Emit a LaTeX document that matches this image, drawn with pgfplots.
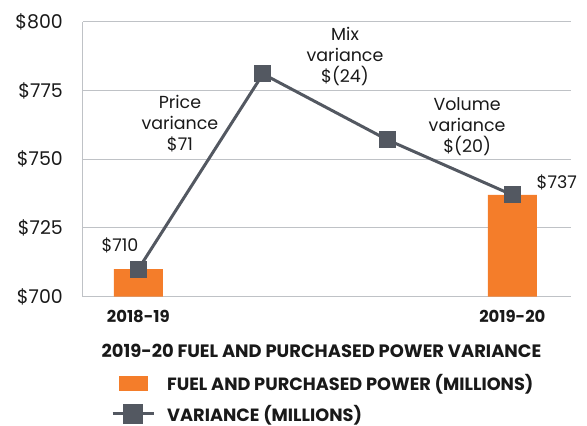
\documentclass[border=0pt]{standalone}
\usepackage{fontspec}
\setmainfont{Poppins}
\usepackage{pgfplots}
\pgfplotsset{compat=1.18}
\definecolor{barorange}{RGB}{244,125,42}
\definecolor{linegray}{RGB}{83,88,97}
\definecolor{gridgray}{RGB}{191,194,198}
\definecolor{txt}{RGB}{25,25,25}
\begin{document}
\begin{tikzpicture}
\begin{axis}[
  at={(0,0)}, anchor=south west,
  scale only axis, width=487.7bp, height=275bp,
  xmin=-0.4436, xmax=3.468, ymin=700, ymax=800,
  clip mode=individual,
  ytick={700,725,750,775,800},
  yticklabels={\$700,\$725,\$750,\$775,\$800},
  xtick={0,3}, xticklabels={2018-19,2019-20},
  x tick label style={font=\fontsize{16.5}{18}\selectfont\bfseries, text=txt, inner sep=0pt, anchor=north, yshift=-13bp},
  y tick label style={font=\fontsize{19}{22}\selectfont, text=txt, inner sep=0pt, anchor=east, xshift=-20bp},
  major tick length=0pt,
  ymajorgrids, grid style={gridgray, line width=1bp},
  axis x line*=bottom, axis y line*=left,
  axis line style={gridgray, line width=1bp, -},
  legend style={at={(axis description cs:0.0574,-0.281)}, anchor=north west, draw=none, fill=none,
    font=\fontsize{17.8}{20}\selectfont\bfseries, text=txt, inner sep=0pt, row sep=12bp, column sep=12bp,
    nodes={inner sep=0pt}},
  legend cell align=left,
]
\addplot[ybar, bar width=49bp, fill=barorange, draw=none,
  legend image code/.code={\fill[barorange] (6bp,-7.5bp) rectangle (35bp,7.5bp);}]
  coordinates {(0,710) (3,737)};
\addlegendentry{FUEL AND PURCHASED POWER (MILLIONS)}
\addplot[linegray, line width=3bp, mark=square*, mark size=7bp, mark options={fill=linegray, draw=none},
  legend image code/.code={\draw[linegray, line width=3bp] (0bp,0bp) -- (41bp,0bp); \fill[linegray] (12bp,-8.5bp) rectangle (29bp,8.5bp);}]
  coordinates {(0,710) (1,781) (2,757) (3,737)};
\addlegendentry{VARIANCE (MILLIONS)}
\node[font=\fontsize{17.5}{21}\selectfont, text=txt, align=center] at (axis cs:0.334,762.8) {Price\\variance\\\$71};
\node[font=\fontsize{17.5}{21}\selectfont, text=txt, align=center] at (axis cs:1.658,787.2) {Mix\\variance\\\$(24)};
\node[font=\fontsize{17.5}{21}\selectfont, text=txt, align=center] at (axis cs:2.637,761.7) {Volume\\variance\\\$(20)};
\node[font=\fontsize{17.5}{21}\selectfont, text=txt] at (axis cs:-0.147,718.8) {\$710};
\node[font=\fontsize{17.5}{21}\selectfont, text=txt] at (axis cs:3.356,741.7) {\$737};
\end{axis}
\node[font=\fontsize{18}{20}\selectfont\bfseries, text=txt] at (238.5bp,-54.3bp) {2019-20 FUEL AND PURCHASED POWER VARIANCE};
\pgfresetboundingbox
\path[use as bounding box] (-83bp,-129.3bp) rectangle (504bp,296.7bp);
\end{tikzpicture}
\end{document}
